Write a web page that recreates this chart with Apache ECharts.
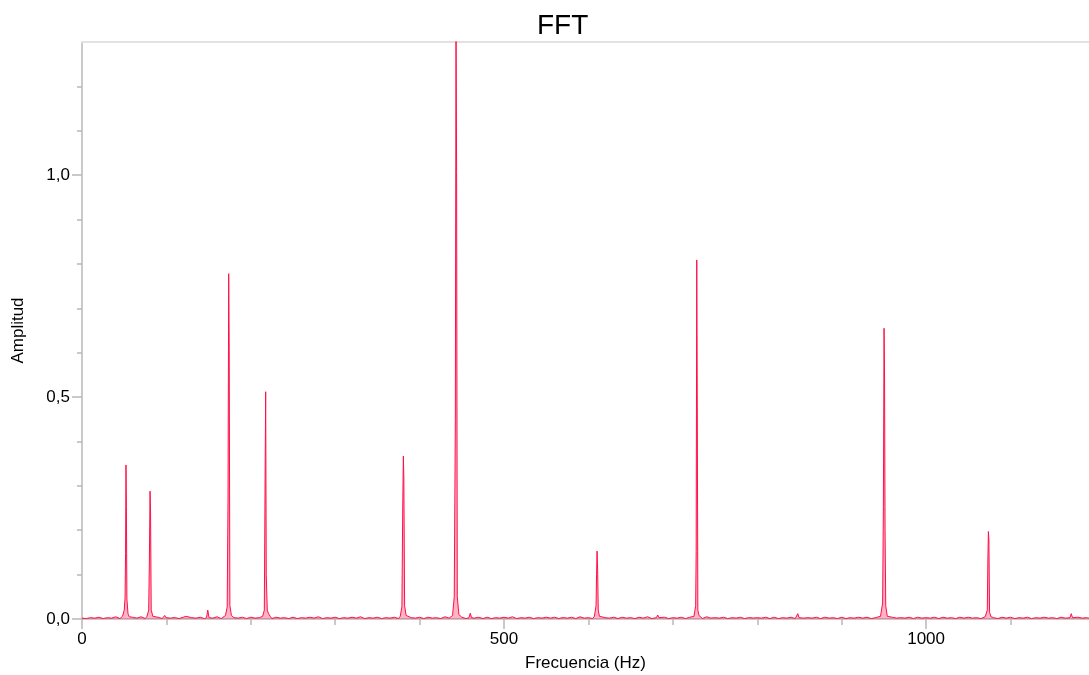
<!DOCTYPE html>
<html>
<head>
<meta charset="utf-8">
<script src="https://cdn.jsdelivr.net/npm/echarts@6/dist/echarts.min.js"></script>
<style>
html,body{margin:0;padding:0;background:#fff;}
#chart{width:1089px;height:675px;}
</style>
</head>
<body>
<div id="chart"></div>
<script>
// ---- data ----
const title = 'FFT';
const xName = 'Frecuencia (Hz)';
const yName = 'Amplitud';
const xMajorTicks = [0, 500, 1000];
const xMinorTicks = [100, 200, 300, 400, 600, 700, 800, 900, 1100];
const yMajorTicks = [0, 0.5, 1.0];
const yMinorTicks = [0.1, 0.2, 0.3, 0.4, 0.6, 0.7, 0.8, 0.9, 1.1, 1.2];

// noise floor, one value every 10 Hz starting at 0 Hz (thousandths)
const noiseStep = 10;
const noiseMilli = [
  2,3,4,3,5,4,4,5,4,4,
  5,4,4,3,4,4,5,4,3,4,
  4,3,5,4,3,4,3,4,5,3,
  4,3,4,5,3,4,3,4,4,3,
  4,4,3,5,4,4,3,4,4,3,
  4,5,3,4,3,4,4,3,4,5,
  3,4,3,4,4,3,4,5,3,4,
  3,4,4,3,5,3,4,3,4,4,
  3,4,4,3,4,4,3,4,4,3,
  4,3,4,4,3,5,4,3,4,4,
  3,4,4,3,4,4,3,4,3,4,
  4,3,4,3,4,3,4,3,4,3
];
// noise floor, one value every 10 Hz starting at 5 Hz (thousandths)
const noiseMilliB = [
  1,2,1,2,1,2,2,1,2,1,
  2,1,2,2,1,2,1,2,2,1,
  2,2,1,2,1,1,2,2,1,2,
  1,2,2,1,2,1,2,1,2,2,
  1,2,1,2,2,1,2,1,1,2,
  2,1,2,1,2,2,1,2,1,2,
  1,2,2,1,2,1,2,1,2,1,
  2,1,2,1,2,2,1,2,1,2,
  2,1,1,2,1,2,2,1,2,1,
  1,2,2,1,2,1,2,2,1,2,
  2,1,2,1,2,2,1,2,1,2,
  1,2,1,2,2,1,2,1,2,1
];

// small bumps on the floor
const bumpFreq = [98, 109, 123, 149, 460, 570, 682, 791, 848, 1172];
const bumpAmp  = [0.008, 0.007, 0.006, 0.02, 0.013, 0.006, 0.009, 0.006, 0.012, 0.012];

// spectral peaks: frequencies (Hz) and amplitudes around each line
const peak1Freq  = [48, 50, 51, 51.6, 52.1, 52.6, 53.2, 54.5, 56];
const peak1Amp   = [0.006, 0.02, 0.047, 0.148, 0.347, 0.253, 0.045, 0.012, 0.005];
const peak2Freq  = [77, 79, 79.8, 80.6, 81.2, 82, 84];
const peak2Amp   = [0.006, 0.02, 0.126, 0.288, 0.245, 0.02, 0.006];
const peak3Freq  = [170, 172, 173, 173.8, 174.4, 175.2, 177];
const peak3Amp   = [0.008, 0.027, 0.268, 0.778, 0.61, 0.03, 0.008];
const peak4Freq  = [214, 216, 216.9, 217.6, 218.3, 219.5, 221, 223];
const peak4Amp   = [0.006, 0.02, 0.317, 0.512, 0.1, 0.02, 0.012, 0.006];
const peak5Freq  = [377, 379, 380, 380.7, 381.3, 382.2, 384];
const peak5Amp   = [0.006, 0.028, 0.257, 0.367, 0.318, 0.03, 0.008];
const peak6Freq  = [439, 441, 442.3, 443.1, 443.8, 444.6, 446.5];
const peak6Amp   = [0.008, 0.05, 0.448, 1.35, 1.008, 0.05, 0.01];
const peak7Freq  = [607, 609, 609.6, 610.2, 610.9, 611.6, 613];
const peak7Amp   = [0.006, 0.03, 0.1, 0.153, 0.11, 0.02, 0.006];
const peak8Freq  = [725, 727, 727.6, 728.3, 728.9, 729.6, 731];
const peak8Amp   = [0.006, 0.03, 0.152, 0.809, 0.505, 0.02, 0.008];
const peak9Freq  = [946, 948.5, 949.4, 950.2, 950.8, 951.4, 952.2, 954];
const peak9Amp   = [0.006, 0.036, 0.253, 0.655, 0.543, 0.2, 0.03, 0.006];
const peak10Freq = [1070, 1072.5, 1073.2, 1073.8, 1074.4, 1075.2, 1077];
const peak10Amp  = [0.005, 0.02, 0.133, 0.197, 0.178, 0.015, 0.005];

// ---- build series table ----
const peaks = [
  [peak1Freq, peak1Amp], [peak2Freq, peak2Amp], [peak3Freq, peak3Amp],
  [peak4Freq, peak4Amp], [peak5Freq, peak5Amp], [peak6Freq, peak6Amp],
  [peak7Freq, peak7Amp], [peak8Freq, peak8Amp], [peak9Freq, peak9Amp],
  [peak10Freq, peak10Amp]
];
const pts = [];
function blocked(f) {
  return peaks.some(p => f >= p[0][0] - 1 && f <= p[0][p[0].length - 1] + 1) ||
         bumpFreq.some(b => Math.abs(b - f) <= 2);
}
noiseMilli.forEach((v, i) => {
  const f = i * noiseStep;
  if (!blocked(f)) pts.push([f, v / 1000]);
});
noiseMilliB.forEach((v, i) => {
  const f = i * noiseStep + 5;
  if (!blocked(f)) pts.push([f, v / 1000]);
});
bumpFreq.forEach((f, i) => {
  pts.push([f - 1.5, 0.003]);
  pts.push([f, bumpAmp[i]]);
  pts.push([f + 1.5, 0.003]);
});
peaks.forEach(p => p[0].forEach((f, i) => pts.push([f, p[1][i]])));
pts.sort((a, b) => a[0] - b[0]);

const XMAX = 1193, YMAX = 1.3;
const axisGray = '#b8b8b8';
const fontFam = '"Liberation Sans", Arial, sans-serif';

const chart = echarts.init(document.getElementById('chart'), null, {renderer: 'canvas'});
chart.setOption({
  animation: false,
  backgroundColor: '#ffffff',
  title: {
    text: title,
    left: 532,
    top: 7,
    textStyle: {fontFamily: fontFam, fontSize: 28, fontWeight: 'normal', color: '#000'}
  },
  grid: {
    left: 82, right: 0, top: 42, bottom: 56, show: false,
    outerBoundsMode: 'none', containLabel: false
  },
  xAxis: [
    {
      type: 'value', min: 0, max: XMAX,
      name: xName, nameLocation: 'middle', nameGap: 36,
      nameTextStyle: {fontFamily: fontFam, fontSize: 17, color: '#000'},
      axisLine: {show: true, onZero: false, lineStyle: {color: axisGray, width: 1.5}},
      axisTick: {show: true, customValues: xMinorTicks, length: 6, lineStyle: {color: axisGray, width: 1.5}},
      axisLabel: {show: true, customValues: xMajorTicks, margin: 12,
        fontFamily: fontFam, fontSize: 17, color: '#000',
        formatter: v => String(v)},
      splitLine: {show: false}
    },
    {
      type: 'value', min: 0, max: XMAX, position: 'bottom',
      axisLine: {show: false},
      axisTick: {show: true, customValues: xMajorTicks, length: 10, lineStyle: {color: axisGray, width: 1.5}},
      axisLabel: {show: false},
      splitLine: {show: false}
    },
    {
      type: 'value', min: 0, max: XMAX, position: 'top',
      axisLine: {show: true, onZero: false, lineStyle: {color: '#e2e2e2', width: 2}},
      axisTick: {show: false},
      axisLabel: {show: false},
      splitLine: {show: false}
    }
  ],
  yAxis: [
    {
      type: 'value', min: 0, max: YMAX,
      name: yName, nameLocation: 'middle', nameGap: 55, nameRotate: 90,
      nameTextStyle: {fontFamily: fontFam, fontSize: 17, color: '#000'},
      axisLine: {show: true, onZero: false, lineStyle: {color: axisGray, width: 1.5}},
      axisTick: {show: true, customValues: yMinorTicks, length: 5, lineStyle: {color: axisGray, width: 1.5}},
      axisLabel: {show: true, customValues: yMajorTicks, margin: 12,
        fontFamily: fontFam, fontSize: 17, color: '#000',
        formatter: v => v.toFixed(1).replace('.', ',')},
      splitLine: {show: false}
    },
    {
      type: 'value', min: 0, max: YMAX, position: 'left',
      axisLine: {show: false},
      axisTick: {show: true, customValues: yMajorTicks, length: 10, lineStyle: {color: axisGray, width: 1.5}},
      axisLabel: {show: false},
      splitLine: {show: false}
    }
  ],
  series: [{
    type: 'line',
    xAxisIndex: 0, yAxisIndex: 0,
    data: pts,
    showSymbol: false,
    symbol: 'none',
    clip: true,
    lineStyle: {color: '#ff1048', width: 1},
    areaStyle: {color: 'rgba(255,16,72,0.45)'},
    emphasis: {disabled: true}
  }]
});
</script>
</body>
</html>
